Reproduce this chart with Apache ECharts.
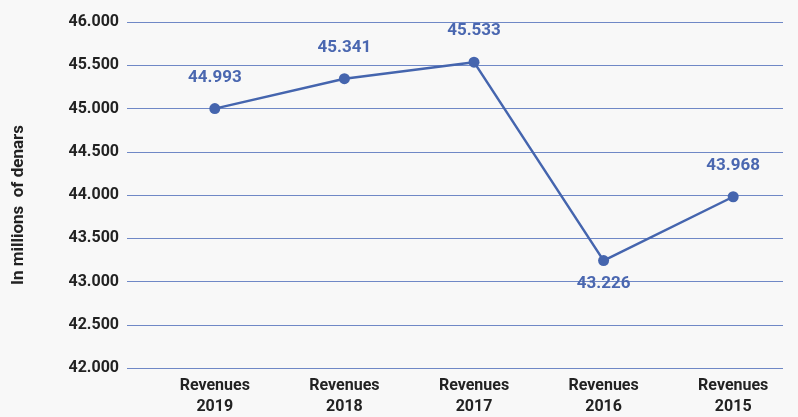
<!DOCTYPE html>
<html lang="en">
<head>
    <meta charset="UTF-8">
    <title>Revenues</title>
    <style>
    html, body { margin: 0; padding: 0; background: #f8f8f8; }
    #main { width: 798px; height: 417px; }
    </style>
</head>
<body>
    <div id="main"></div>
    <script src="https://cdn.jsdelivr.net/npm/echarts@6/dist/echarts.min.js"></script>
    <script>
    // categories and values (in millions of denars)
    var categories = ['Revenues\n2019', 'Revenues\n2018', 'Revenues\n2017', 'Revenues\n2016', 'Revenues\n2015'];
    var revenues = [44.993, 45.341, 45.533, 43.226, 43.968];
    var labelPos = ['top', 'top', 'top', 'bottom', 'top'];
    var yMin = 42, yMax = 46, yStep = 0.5;

    var blue = '#4565ae';
    var font = 'Roboto, "Liberation Sans", sans-serif';

    var seriesData = revenues.map(function (v, i) {
        return { value: v, label: { position: labelPos[i], distance: labelPos[i] == 'top' ? 17 : 9 } };
    });

    var myChart = echarts.init(document.getElementById('main'));
    var option = {
        backgroundColor: '#f8f8f8',
        textStyle: { fontFamily: font },
        grid: [
            { left: 127, right: 15, top: 22, bottom: 49 },
            { left: 150, width: 652, top: 22, bottom: 49 }
        ],
        xAxis: [
            { gridIndex: 0, type: 'category', data: categories, show: false },
            {
                gridIndex: 1,
                type: 'category',
                data: categories,
                axisLine: { show: false },
                axisTick: { show: false },
                axisLabel: {
                    color: '#222',
                    fontWeight: 'bold',
                    fontSize: 16,
                    lineHeight: 21,
                    margin: 9,
                    interval: 0
                }
            }
        ],
        yAxis: [
            {
                gridIndex: 0,
                type: 'value',
                min: yMin,
                max: yMax,
                interval: yStep,
                name: 'In millions  of denars',
                nameLocation: 'middle',
                nameGap: 100,
                nameTextStyle: { color: '#222', fontWeight: 'bold', fontSize: 17, padding: [0, 20, 0, 0] },
                axisLine: { show: false },
                axisTick: { show: false },
                axisLabel: {
                    color: '#222',
                    fontWeight: 'bold',
                    fontSize: 16,
                    margin: 8,
                    formatter: function (v) { return v.toFixed(3); }
                },
                splitLine: { lineStyle: { color: '#6f88c6', width: 1.2 } }
            },
            { gridIndex: 1, type: 'value', min: yMin, max: yMax, interval: yStep, show: false }
        ],
        series: [{
            type: 'line',
            xAxisIndex: 1,
            yAxisIndex: 1,
            data: seriesData,
            symbol: 'circle',
            symbolSize: 11,
            lineStyle: { color: blue, width: 2.5 },
            itemStyle: { color: blue },
            label: {
                show: true,
                color: '#4a67b0',
                fontWeight: 'bold',
                fontSize: 17,
                formatter: function (p) { return p.value.toFixed(3); }
            }
        }]
    };
    myChart.setOption(option);
    </script>
</body>
</html>
